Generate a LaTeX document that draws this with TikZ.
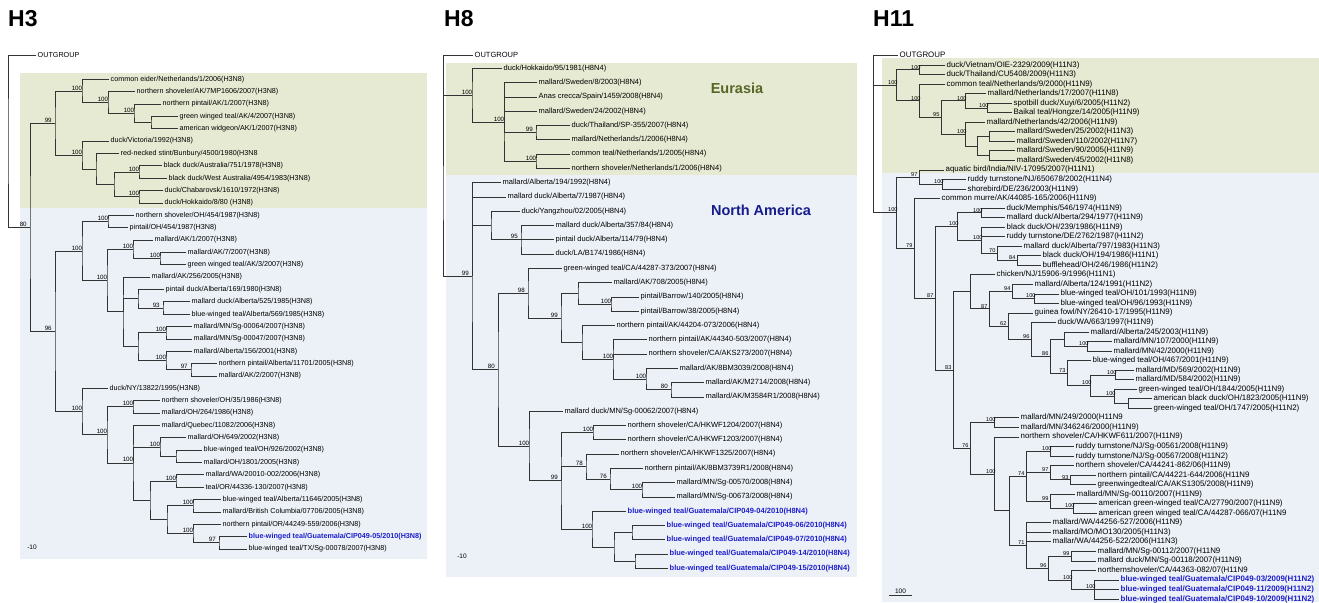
\documentclass[tikz,border=0pt]{standalone}
\usepackage{fontspec}
\setmainfont{Liberation Sans}
\usepackage{xcolor}
\usetikzlibrary{calc}

\definecolor{eugreen}{RGB}{231,234,210}
\definecolor{nablue}{RGB}{236,241,247}
\definecolor{gtblue}{RGB}{30,30,205}
\definecolor{eutext}{RGB}{86,102,38}
\definecolor{natext}{RGB}{22,28,140}

\tikzset{
  branch/.style={draw=black!80, line width=0.7pt},
  leaf/.style={anchor=west, inner sep=1.5pt},
  gt/.style={text=gtblue, execute at begin node=\bfseries},
  boot/.style={anchor=south west, xshift=-11pt, inner sep=0.6pt, font=\fontsize{6.2}{6.5}\selectfont},
  panel/.style={anchor=west, inner sep=0pt, font=\bfseries\fontsize{23}{24}\selectfont},
  region/.style={inner sep=0pt, font=\bfseries\fontsize{14.5}{16}\selectfont},
  scalelab/.style={inner sep=0pt, font=\fontsize{6.5}{7}\selectfont},
}

% leaf: [style]{name}{x}{row}{label}
\newcommand\tip[5][]{\node[leaf,#1] (#2) at (#3,{\ytop+(#4-1)*\ystep}) {#5};}
% clade: {name}{x}{first child}{last child}{support}
\newcommand\clade[5]{%
  \path let \p1=(#3), \p2=(#4) in coordinate (#1) at (#2,{0.5*\y1+0.5*\y2});
  \draw[branch] (#3) -| (#1) |- (#4);
  \if\relax\detokenize{#5}\relax\else\node[boot] (#1s) at (#1) {#5};\fi}

\begin{document}
\begin{tikzpicture}[x=1pt, y=-1pt]
\useasboundingbox (0,0) rectangle (1319,602);

% ---------------- H3 ----------------
\begin{scope}[font=\fontsize{7.2}{8}\selectfont]
\def\ytop{79.3}\def\ystep{12.36}
\fill[eugreen] (20,73) rectangle (427,208);
\fill[nablue] (20,208) rectangle (427,559);
\node[panel] (h3) at (8,19) {H3};
\node[leaf] (a0) at (36,55) {OUTGROUP};
\tip{a1}{109}{1}{common eider/Netherlands/1/2006(H3N8)}
\tip{a2}{135}{2}{northern shoveler/AK/7MP1606/2007(H3N8)}
\tip{a3}{161}{3}{northern pintail/AK/1/2007(H3N8)}
\tip{a4}{178}{4}{green winged teal/AK/4/2007(H3N8)}
\tip{a5}{178}{5}{american widgeon/AK/1/2007(H3N8)}
\tip{a6}{109}{6}{duck/Victoria/1992(H3N8)}
\tip{a7}{119}{7}{red-necked stint/Bunbury/4500/1980(H3N8}
\tip{a8}{162}{8}{black duck/Australia/751/1978(H3N8)}
\tip{a9}{167}{9}{black duck/West Australia/4954/1983(H3N8)}
\tip{a10}{163}{10}{duck/Chabarovsk/1610/1972(H3N8)}
\tip{a11}{163}{11}{duck/Hokkaido/8/80 (H3N8)}
\tip{a12}{134}{12}{northern shoveler/OH/454/1987(H3N8)}
\tip{a13}{128}{13}{pintail/OH/454/1987(H3N8)}
\tip{a14}{153}{14}{mallard/AK/1/2007(H3N8)}
\tip{a15}{186}{15}{mallard/AK/7/2007(H3N8)}
\tip{a16}{186}{16}{green winged teal/AK/3/2007(H3N8)}
\tip{a17}{150}{17}{mallard/AK/256/2005(H3N8)}
\tip{a18}{164}{18}{pintail duck/Alberta/169/1980(H3N8)}
\tip{a19}{190}{19}{mallard duck/Alberta/525/1985(H3N8)}
\tip{a20}{190}{20}{blue-winged teal/Alberta/569/1985(H3N8)}
\tip{a21}{192}{21}{mallard/MN/Sg-00064/2007(H3N8)}
\tip{a22}{192}{22}{mallard/MN/Sg-00047/2007(H3N8)}
\tip{a23}{192}{23}{mallard/Alberta/156/2001(H3N8)}
\tip{a24}{217}{24}{northern pintail/Alberta/11701/2005(H3N8)}
\tip{a25}{217}{25}{mallard/AK/2/2007(H3N8)}
\tip{a26}{108}{26}{duck/NY/13822/1995(H3N8)}
\tip{a27}{160}{27}{northern shoveler/OH/35/1986(H3N8)}
\tip{a28}{160}{28}{mallard/OH/264/1986(H3N8)}
\tip{a29}{160}{29}{mallard/Quebec/11082/2006(H3N8)}
\tip{a30}{186}{30}{mallard/OH/649/2002(H3N8)}
\tip{a31}{202}{31}{blue-winged teal/OH/926/2002(H3N8)}
\tip{a32}{202}{32}{mallard/OH/1801/2005(H3N8)}
\tip{a33}{204}{33}{mallard/WA/20010-002/2006(H3N8)}
\tip{a34}{204}{34}{teal/OR/44336-130/2007(H3N8)}
\tip{a35}{221}{35}{blue-winged teal/Alberta/11646/2005(H3N8)}
\tip{a36}{221}{36}{mallard/British Columbia/07706/2005(H3N8)}
\tip{a37}{221}{37}{northern pintail/OR/44249-559/2006(H3N8)}
\tip[gt]{a38}{247}{38}{blue-winged teal/Guatemala/CIP049-05/2010(H3N8)}
\tip{a39}{247}{39}{blue-winged teal/TX/Sg-00078/2007(H3N8)}
% Eurasian clade
\clade{a4n}{151}{a4}{a5}{}
\clade{a3n}{134}{a3}{a4n}{100}
\clade{a2n}{108}{a2}{a3n}{100}
\clade{a1n}{82}{a1}{a2n}{100}
\clade{a8n}{139}{a8}{a9}{100}
\clade{a10n}{139}{a10}{a11}{100}
\clade{a8p}{114}{a8n}{a10n}{}
\clade{a7n}{96}{a7}{a8p}{}
\clade{a6n}{82}{a6}{a7n}{100}
\clade{aEu}{55}{a1n}{a6n}{99}
% North American clade
\clade{a12n}{108}{a12}{a13}{100}
\clade{a15n}{160}{a15}{a16}{100}
\clade{a14n}{133}{a14}{a15n}{100}
\clade{a19n}{163}{a19}{a20}{93}
\clade{a18n}{138}{a18}{a19n}{}
\clade{a21n}{166}{a21}{a22}{100}
\clade{a24n}{191}{a24}{a25}{97}
\clade{a23n}{166}{a23}{a24n}{100}
\clade{a21p}{138}{a21n}{a23n}{}
\clade{a17n}{123}{a17}{a21p}{}
\draw[branch] (a17n) |- (a18n);
\clade{a14p}{107}{a14n}{a17n}{100}
\clade{a12p}{82}{a12n}{a14p}{100}
\clade{a27n}{133}{a27}{a28}{100}
\clade{a31n}{176}{a31}{a32}{}
\clade{a30n}{160}{a30}{a31n}{100}
\clade{a33n}{176}{a33}{a34}{100}
\clade{a35n}{193}{a35}{a36}{100}
\clade{a38n}{219}{a38}{a39}{97}
\clade{a37n}{193}{a37}{a38n}{100}
\clade{a35p}{167}{a35n}{a37n}{}
\clade{a33p}{150}{a33n}{a35p}{}
\clade{a29n}{133}{a29}{a33p}{100}
\draw[branch] (a29n) |- (a30n);
\clade{a27p}{107}{a27n}{a29n}{100}
\clade{a26n}{82}{a26}{a27p}{100}
\clade{aNA}{55}{a12p}{a26n}{96}
\clade{a80}{30}{aEu}{aNA}{80}
\clade{aR}{8}{a0}{a80}{}
\node[scalelab] (a10s) at (32,547) {-10};
\end{scope}

% ---------------- H8 ----------------
\begin{scope}[font=\fontsize{7.5}{8}\selectfont]
\def\ytop{68.3}\def\ystep{14.286}
\fill[eugreen] (446,63) rectangle (857,175);
\fill[nablue] (446,175) rectangle (857,577);
\node[panel] (h8) at (444,19) {H8};
\node[region, text=eutext] (eur) at (737,88) {Eurasia};
\node[region, text=natext] (nam) at (761,210) {North America};
\node[leaf] (b0) at (473,55) {OUTGROUP};
\tip{b1}{502}{1}{duck/Hokkaido/95/1981(H8N4)}
\tip{b2}{537}{2}{mallard/Sweden/8/2003(H8N4)}
\tip{b3}{537}{3}{Anas crecca/Spain/1459/2008(H8N4)}
\tip{b4}{537}{4}{mallard/Sweden/24/2002(H8N4)}
\tip{b5}{570}{5}{duck/Thailand/SP-355/2007(H8N4)}
\tip{b6}{570}{6}{mallard/Netherlands/1/2006(H8N4)}
\tip{b7}{570}{7}{common teal/Netherlands/1/2005(H8N4)}
\tip{b8}{570}{8}{northern shoveler/Netherlands/1/2006(H8N4)}
\tip{b9}{501}{9}{mallard/Alberta/194/1992(H8N4)}
\tip{b10}{506}{10}{mallard duck/Alberta/7/1987(H8N4)}
\tip{b11}{520}{11}{duck/Yangzhou/02/2005(H8N4)}
\tip{b12}{554}{12}{mallard duck/Alberta/357/84(H8N4)}
\tip{b13}{554}{13}{pintail duck/Alberta/114/79(H8N4)}
\tip{b14}{554}{14}{duck/LA/B174/1986(H8N4)}
\tip{b15}{562}{15}{green-winged teal/CA/44287-373/2007(H8N4)}
\tip{b16}{612}{16}{mallard/AK/708/2005(H8N4)}
\tip{b17}{639}{17}{pintail/Barrow/140/2005(H8N4)}
\tip{b18}{639}{18}{pintail/Barrow/38/2005(H8N4)}
\tip{b19}{615}{19}{northern pintail/AK/44204-073/2006(H8N4)}
\tip{b20}{647}{20}{northern pintail/AK/44340-503/2007(H8N4)}
\tip{b21}{647}{21}{northern shoveler/CA/AKS273/2007(H8N4)}
\tip{b22}{678}{22}{mallard/AK/8BM3039/2008(H8N4)}
\tip{b23}{704}{23}{mallard/AK/M2714/2008(H8N4)}
\tip{b24}{704}{24}{mallard/AK/M3584R1/2008(H8N4)}
\tip{b25}{563}{25}{mallard duck/MN/Sg-00062/2007(H8N4)}
\tip{b26}{626}{26}{northern shoveler/CA/HKWF1204/2007(H8N4)}
\tip{b27}{626}{27}{northern shoveler/CA/HKWF1203/2007(H8N4)}
\tip{b28}{619}{28}{northern shoveler/CA/HKWF1325/2007(H8N4)}
\tip{b29}{643}{29}{northern pintail/AK/8BM3739R1/2008(H8N4)}
\tip{b30}{675}{30}{mallard/MN/Sg-00570/2008(H8N4)}
\tip{b31}{675}{31}{mallard/MN/Sg-00673/2008(H8N4)}
\tip[gt]{b32}{626}{32}{blue-winged teal/Guatemala/CIP049-04/2010(H8N4)}
\tip[gt]{b33}{665}{33}{blue-winged teal/Guatemala/CIP049-06/2010(H8N4)}
\tip[gt]{b34}{665}{34}{blue-winged teal/Guatemala/CIP049-07/2010(H8N4)}
\tip[gt]{b35}{668}{35}{blue-winged teal/Guatemala/CIP049-14/2010(H8N4)}
\tip[gt]{b36}{668}{36}{blue-winged teal/Guatemala/CIP049-15/2010(H8N4)}
% Eurasian clade
\clade{b5n}{536}{b5}{b6}{99}
\clade{b7n}{536}{b7}{b8}{100}
\clade{b2n}{504}{b2}{b7n}{100}
\draw[branch] (b2n) |- (b3);
\draw[branch] (b2n) |- (b4);
\draw[branch] (b2n) |- (b5n);
\clade{bEu}{472}{b1}{b2n}{100}
% North American clade
\clade{b12n}{521}{b12}{b14}{95}
\draw[branch] (b12n) |- (b13);
\clade{b11n}{491}{b11}{b12n}{}
\clade{b17n}{611}{b17}{b18}{100}
\clade{b16n}{578}{b16}{b17n}{}
\clade{b23n}{671}{b23}{b24}{80}
\clade{b22n}{646}{b22}{b23n}{100}
\clade{b20n}{613}{b20}{b22n}{100}
\draw[branch] (b20n) |- (b21);
\clade{b19n}{582}{b19}{b20n}{}
\clade{b16p}{561}{b16n}{b19n}{99}
\clade{b15n}{528}{b15}{b16p}{98}
\clade{b26n}{593}{b26}{b27}{100}
\clade{b30n}{642}{b30}{b31}{100}
\clade{b29n}{610}{b29}{b30n}{76}
\clade{b28n}{586}{b28}{b29n}{78}
\clade{b33n}{632}{b33}{b34}{}
\clade{b35n}{635}{b35}{b36}{}
\clade{b33p}{614}{b33n}{b35n}{}
\clade{b32n}{592}{b32}{b33p}{100}
\clade{b26p}{561}{b26n}{b32n}{99}
\draw[branch] (b26p) |- (b28n);
\clade{b25n}{529}{b25}{b26p}{100}
\clade{b15p}{498}{b15n}{b25n}{80}
\clade{bNA}{472}{b9}{b15p}{99}
\draw[branch] (bNA) |- (b10);
\draw[branch] (bNA) |- (b11n);
\clade{bR}{443}{b0}{bNA}{}
\draw[branch] (bR) |- (bEu);
\node[scalelab] (b10s) at (462,556) {-10};
\end{scope}

% ---------------- H11 ----------------
\begin{scope}[font=\fontsize{7.9}{8.5}\selectfont,
  boot/.style={anchor=south west, xshift=-8.5pt, inner sep=0.5pt, font=\fontsize{5.6}{6}\selectfont}]
\def\ytop{65}\def\ystep{9.536}
\fill[eugreen] (882,58) rectangle (1319,173);
\fill[nablue] (882,173) rectangle (1319,602);
\node[panel] (h11) at (873,19) {H11};
\node[leaf] (c0) at (898,55) {OUTGROUP};
\tip{c1}{945}{1}{duck/Vietnam/OIE-2329/2009(H11N3)}
\tip{c2}{945}{2}{duck/Thailand/CU5408/2009(H11N3)}
\tip{c3}{945}{3}{common teal/Netherlands/9/2000(H11N9)}
\tip{c4}{986}{4}{mallard/Netherlands/17/2007(H11N8)}
\tip{c5}{1012}{5}{spotbill duck/Xuyi/6/2005(H11N2)}
\tip{c6}{1012}{6}{Baikal teal/Hongze/14/2005(H11N9)}
\tip{c7}{985}{7}{mallard/Netherlands/42/2006(H11N9)}
\tip{c8}{1015}{8}{mallard/Sweden/25/2002(H11N3)}
\tip{c9}{1015}{9}{mallard/Sweden/110/2002(H11N7)}
\tip{c10}{1015}{10}{mallard/Sweden/90/2005(H11N9)}
\tip{c11}{1015}{11}{mallard/Sweden/45/2002(H11N8)}
\tip{c12}{944}{12}{aquatic bird/India/NIV-17095/2007(H11N1)}
\tip{c13}{966}{13}{ruddy turnstone/NJ/650678/2002(H11N4)}
\tip{c14}{966}{14}{shorebird/DE/236/2003(H11N9)}
\tip{c15}{940}{15}{common murre/AK/44085-165/2006(H11N9)}
\tip{c16}{1005}{16}{duck/Memphis/546/1974(H11N9)}
\tip{c17}{1005}{17}{mallard duck/Alberta/294/1977(H11N9)}
\tip{c18}{1005}{18}{black duck/OH/239/1986(H11N9)}
\tip{c19}{1005}{19}{ruddy turnstone/DE/2762/1987(H11N2)}
\tip{c20}{1022}{20}{mallard duck/Alberta/797/1983(H11N3)}
\tip{c21}{1041}{21}{black duck/OH/194/1986(H11N1)}
\tip{c22}{1041}{22}{bufflehead/OH/246/1986(H11N2)}
\tip{c23}{995}{23}{chicken/NJ/15906-9/1996(H11N1)}
\tip{c24}{1033}{24}{mallard/Alberta/124/1991(H11N2)}
\tip{c25}{1059}{25}{blue-winged teal/OH/101/1993(H11N9)}
\tip{c26}{1059}{26}{blue-winged teal/OH/96/1993(H11N9)}
\tip{c27}{1033}{27}{guinea fowl/NY/26410-17/1995(H11N9)}
\tip{c28}{1056}{28}{duck/WA/663/1997(H11N9)}
\tip{c29}{1089}{29}{mallard/Alberta/245/2003(H11N9)}
\tip{c30}{1112}{30}{mallard/MN/107/2000(H11N9)}
\tip{c31}{1112}{31}{mallard/MN/42/2000(H11N9)}
\tip{c32}{1091}{32}{blue-winged teal/OH/467/2001(H11N9)}
\tip{c33}{1134}{33}{mallard/MD/569/2002(H11N9)}
\tip{c34}{1134}{34}{mallard/MD/584/2002(H11N9)}
\tip{c35}{1137}{35}{green-winged teal/OH/1844/2005(H11N9)}
\tip{c36}{1152}{36}{american black duck/OH/1823/2005(H11N9)}
\tip{c37}{1152}{37}{green-winged teal/OH/1747/2005(H11N2)}
\tip{c38}{1019}{38}{mallard/MN/249/2000(H11N9}
\tip{c39}{1019}{39}{mallard/MN/346246/2000(H11N9)}
\tip{c40}{1019}{40}{northern shoveler/CA/HKWF611/2007(H11N9)}
\tip{c41}{1074}{41}{ruddy turnstone/NJ/Sg-00561/2008(H11N9)}
\tip{c42}{1074}{42}{ruddy turnstone/NJ/Sg-00567/2008(H11N2)}
\tip{c43}{1074}{43}{northern shoveler/CA/44241-862/06(H11N9)}
\tip{c44}{1096}{44}{northern pintail/CA/44221-644/2006(H11N9}
\tip{c45}{1096}{45}{greenwingedteal/CA/AKS1305/2008(H11N9)}
\tip{c46}{1075}{46}{mallard/MN/Sg-00110/2007(H11N9)}
\tip{c47}{1097}{47}{american green-winged teal/CA/27790/2007(H11N9)}
\tip{c48}{1097}{48}{american green winged teal/CA/44287-066/07(H11N9}
\tip{c49}{1051}{49}{mallard/WA/44256-527/2006(H11N9)}
\tip{c50}{1051}{50}{mallard/MO/MO130/2005(H11N3)}
\tip{c51}{1051}{51}{mallar/WA/44256-522/2006(H11N3)}
\tip{c52}{1096}{52}{mallard/MN/Sg-00112/2007(H11N9}
\tip{c53}{1096}{53}{mallard duck/MN/Sg-00118/2007(H11N9)}
\tip{c54}{1096}{54}{northernshoveler/CA/44363-082/07(H11N9}
\tip[gt]{c55}{1119}{55}{blue-winged teal/Guatemala/CIP049-03/2009(H11N2)}
\tip[gt]{c56}{1119}{56}{blue-winged teal/Guatemala/CIP049-11/2009(H11N2)}
\tip[gt]{c57}{1119}{57}{blue-winged teal/Guatemala/CIP049-10/2009(H11N2)}
% Eurasian clade
\clade{c1n}{919}{c1}{c2}{100}
\clade{c5n}{987}{c5}{c6}{100}
\clade{c4n}{965}{c4}{c5n}{100}
\clade{c8n}{989}{c8}{c9}{}
\clade{c10n}{989}{c10}{c11}{}
\clade{c8p}{977}{c8n}{c10n}{}
\clade{c7n}{965}{c7}{c8p}{100}
\clade{c4p}{941}{c4n}{c7n}{95}
\clade{c3n}{919}{c3}{c4p}{100}
\clade{cEu}{896}{c1n}{c3n}{100}
% North American clade
\clade{c13n}{942}{c13}{c14}{100}
\clade{c12n}{919}{c12}{c13n}{97}
\clade{c16n}{981}{c16}{c17}{100}
\clade{c21n}{1017}{c21}{c22}{84}
\clade{c20n}{997}{c20}{c21n}{70}
\clade{c18n}{981}{c18}{c20n}{100}
\draw[branch] (c18n) |- (c19);
\clade{c16p}{957}{c16n}{c18n}{100}
\clade{c25n}{1034}{c25}{c26}{100}
\clade{c24n}{1012}{c24}{c25n}{94}
\clade{c30n}{1087}{c30}{c31}{100}
\clade{c29n}{1064}{c29}{c30n}{}
\clade{c33n}{1115}{c33}{c34}{100}
\clade{c36n}{1128}{c36}{c37}{}
\clade{c35n}{1114}{c35}{c36n}{100}
\clade{c33p}{1090}{c33n}{c35n}{100}
\clade{c32n}{1067}{c32}{c33p}{73}
\clade{c29p}{1050}{c29n}{c32n}{86}
\clade{c28n}{1031}{c28}{c29p}{96}
\clade{c27n}{1008}{c27}{c28n}{62}
\clade{c24p}{989}{c24n}{c27n}{87}
\clade{c23n}{970}{c23}{c24p}{}
\clade{c38n}{994}{c38}{c39}{100}
\clade{c41n}{1050}{c41}{c42}{100}
\clade{c44n}{1070}{c44}{c45}{93}
\clade{c43n}{1050}{c43}{c44n}{97}
\clade{c47n}{1073}{c47}{c48}{100}
\clade{c46n}{1050}{c46}{c47n}{99}
\clade{c41p}{1026}{c41n}{c46n}{74}
\draw[branch] (c41p) |- (c43n);
\clade{c52n}{1071}{c52}{c53}{99}
\clade{c55n}{1094}{c55}{c57}{100}
\draw[branch] (c55n) |- (c56);
\clade{c54n}{1071}{c54}{c55n}{100}
\clade{c52p}{1048}{c52n}{c54n}{96}
\clade{c49n}{1026}{c49}{c52p}{71}
\draw[branch] (c49n) |- (c50);
\draw[branch] (c49n) |- (c51);
\clade{c41q}{1009}{c41p}{c49n}{}
\clade{c40n}{994}{c40}{c41q}{100}
\clade{c38p}{970}{c38n}{c40n}{76}
\clade{c23p}{953}{c23n}{c38p}{83}
\clade{c16q}{935}{c16p}{c23p}{87}
\clade{c15n}{914}{c15}{c16q}{79}
\clade{cNA}{896}{c12n}{c15n}{100}
\clade{cR}{873}{c0}{cNA}{}
\draw[branch] (cR) |- (cEu);
% scale bar
\coordinate (sb1) at (889,595);
\coordinate (sb2) at (912,595);
\draw[branch, line width=0.6pt] (sb1) -- (sb2);
\node[scalelab, anchor=south] (sbl) at ($(sb1)!.5!(sb2)+(0,-1.5)$) {100};
\end{scope}
\end{tikzpicture}
\end{document}
